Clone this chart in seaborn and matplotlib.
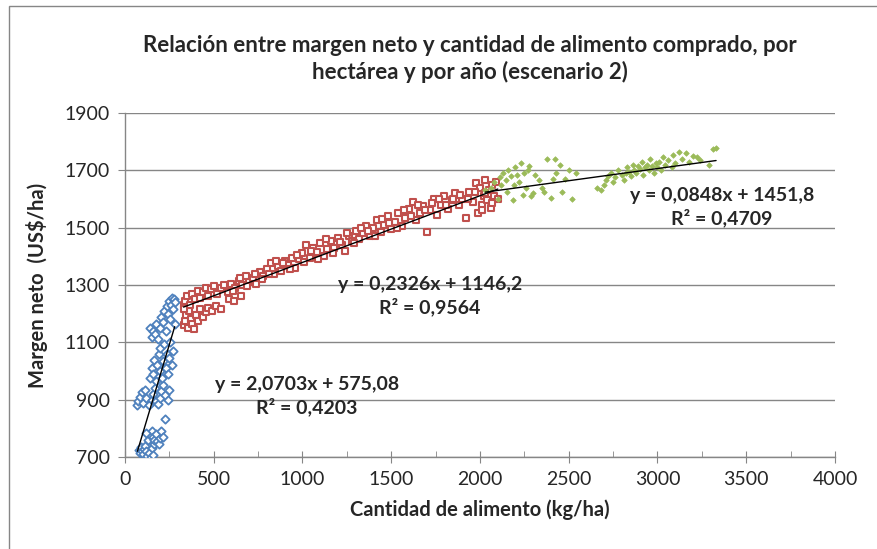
import numpy as np
import pandas as pd
import matplotlib
matplotlib.use("Agg")
import matplotlib.pyplot as plt
import seaborn as sns
from matplotlib.ticker import MultipleLocator
from matplotlib.patches import Rectangle

# serie 1 (azul)
azul_x = [80, 85, 90, 95, 100, 105, 110, 120, 125, 135, 145, 150, 160, 165, 130, 140, 150, 155, 165, 175,
          180, 190, 200, 205, 215, 120, 226,
          70, 75, 85, 95, 100, 110, 120, 135, 150, 160, 170, 175, 185, 195, 205, 215, 225, 240, 250,
          140, 150, 160, 165, 175, 180, 190, 195, 200, 210, 215, 220, 230, 235, 245, 250, 255, 265, 270,
          140, 150, 160, 170, 175, 185, 195, 205, 215, 220, 230, 235, 245, 250, 255, 260, 265, 270, 275, 280, 280]
azul_y = [725, 715, 735, 720, 712, 728, 740, 722, 705, 715, 700, 732, 708, 745, 760, 775, 790, 770, 760, 780,
          755, 745, 765, 790, 770, 785, 833,
          880, 895, 910, 925, 890, 935, 905, 880, 900, 920, 940, 895, 885, 905, 930, 950, 915, 900, 935,
          975, 1010, 990, 1040, 965, 1020, 1060, 1000, 1080, 975, 1035, 1095, 1010, 1060, 990, 1045, 1100, 1020, 1070,
          1150, 1120, 1140, 1130, 1165, 1110, 1150, 1190, 1170, 1210, 1140, 1225, 1200, 1245, 1180, 1230, 1255, 1215, 1250, 1165, 1240]

# serie 2 (roja)
roja_x = [330, 340, 345, 355, 360, 370, 380, 390, 400, 410, 420, 440, 455, 470, 490, 510, 540, 330, 335,
          340, 350, 365, 380, 395, 410, 425, 440, 455, 470, 485, 500, 520, 540, 560, 580, 600, 620, 640, 660,
          680, 700, 720, 740, 760, 780, 800, 820, 840, 860, 880, 900, 920, 940, 960, 980, 1000, 1020, 1040,
          1060, 1080, 1100, 1120, 1140, 1160, 1180, 1200, 1220, 1240, 1260, 1280, 1300, 1320, 1340, 1360,
          1380, 1400, 1420, 1440, 1460, 1480, 1500, 1520, 1540, 1560, 1580, 1600, 1620, 1640, 1660, 1680,
          1700, 1720, 1740, 1760, 1780, 1800, 1820, 1840, 1860, 1880, 1900, 1920, 1940, 1960, 1980, 1990,
          2000, 2010, 2020, 2030, 2040, 2050, 2060, 2070, 2080, 2090, 2100,
          610, 650, 690, 730, 770, 810, 850, 890, 930, 970, 1010, 1050, 1090, 1130, 1170, 1210, 1250, 1290,
          1330, 1370, 1410, 1450, 1490, 1530, 1570, 1610, 1650, 1690, 1730, 1770, 1810, 1850, 1890, 1930,
          1970, 2030, 2070, 2010, 585, 615, 655]
roja_y = [1160, 1175, 1195, 1150, 1210, 1180, 1165, 1145, 1195, 1175, 1215, 1190, 1205, 1220, 1210, 1225, 1215, 1230, 1215,
          1245, 1260, 1230, 1270, 1250, 1280, 1255, 1275, 1290, 1262, 1285, 1295, 1270, 1290, 1300, 1275, 1305, 1290, 1315, 1300,
          1330, 1310, 1325, 1305, 1345, 1330, 1355, 1375, 1340, 1365, 1350, 1385, 1370, 1395, 1360, 1390, 1410, 1440, 1395,
          1430, 1415, 1445, 1400, 1425, 1455, 1430, 1465, 1440, 1420, 1470, 1455, 1490, 1460, 1480, 1505,
          1470, 1500, 1525, 1485, 1510, 1540, 1495, 1520, 1550, 1505, 1535, 1565, 1590, 1525, 1550, 1575,
          1485, 1560, 1600, 1545, 1580, 1610, 1565, 1595, 1620, 1580, 1600, 1535, 1625, 1590, 1655, 1550,
          1640, 1580, 1610, 1665, 1595, 1630, 1570, 1650, 1610, 1660, 1600,
          1280, 1325, 1295, 1340, 1320, 1340, 1385, 1375, 1355, 1405, 1380, 1420, 1390, 1460, 1410, 1450, 1480, 1445,
          1500, 1490, 1470, 1530, 1515, 1500, 1560, 1540, 1580, 1560, 1585, 1600, 1580, 1600, 1615, 1600,
          1625, 1620, 1585, 1560, 1250, 1245, 1262]

# serie 3 (verde)
verde_x = [2030, 2060, 2080, 2100, 2110, 2120, 2130, 2145, 2150, 2160, 2175, 2185, 2190, 2200, 2210, 2220,
           2230, 2240, 2250, 2260, 2270, 2275, 2290, 2300, 2310, 2330, 2350, 2360, 2380, 2400, 2410, 2420,
           2430, 2450, 2460, 2480, 2500, 2520, 2540,
           2660, 2680, 2700, 2710, 2720, 2740, 2750, 2760, 2780, 2800, 2810, 2820, 2830, 2840, 2850, 2860,
           2870, 2880, 2890, 2900, 2910, 2920, 2930, 2940, 2950, 2960, 2970, 2980, 2990, 3000, 3010, 3020,
           3030, 3040, 3060, 3080, 3090, 3100, 3120, 3140, 3160, 3180, 3200, 3220, 3240, 3310, 3330, 3290]
verde_y = [1630, 1640, 1660, 1600, 1675, 1650, 1690, 1665, 1625, 1700, 1680, 1595, 1650, 1710, 1685, 1660,
           1725, 1615, 1690, 1640, 1700, 1715, 1610, 1620, 1685, 1665, 1640, 1625, 1740, 1605, 1670, 1740,
           1690, 1720, 1625, 1670, 1700, 1600, 1690,
           1640, 1630, 1650, 1665, 1680, 1690, 1660, 1675, 1700, 1685, 1665, 1690, 1710, 1695, 1680, 1720,
           1700, 1690, 1715, 1705, 1730, 1685, 1710, 1720, 1700, 1740, 1715, 1690, 1725, 1710, 1730, 1700,
           1745, 1720, 1735, 1710, 1755, 1725, 1765, 1740, 1760, 1730, 1750, 1745, 1735, 1775, 1778, 1720]

# lineas de tendencia (pendiente, intercepto)
tendencias = [(2.0703, 575.08), (0.2326, 1146.2), (0.0848, 1451.8)]
etiquetas = ["y = 2,0703x + 575,08\nR² = 0,4203",
             "y = 0,2326x + 1146,2\nR² = 0,9564",
             "y = 0,0848x + 1451,8\nR² = 0,4709"]
y_ticks = [700, 900, 1100, 1300, 1500, 1700, 1900]

sns.set_style("white")
plt.rcParams['font.family'] = ['Lato', 'DejaVu Sans']

fig = plt.figure(figsize=(8.78, 5.49), dpi=100)
ax = fig.add_axes([125 / 878, 1 - 457 / 549, 710 / 878, 344 / 549])

gris = "#868686"
ax.grid(axis="y", color=gris, lw=1)
ax.set_axisbelow(True)

series = [
    (azul_x, azul_y, "D", "white", "#4F81BD", 18, 1.3),
    (roja_x, roja_y, "s", "white", "#C0504D", 16, 1.5),
    (verde_x, verde_y, "D", "#9BBB59", "#9BBB59", 8, 0.5),
]
for sx, sy, m, fc, ec, s, lw in series:
    df = pd.DataFrame({"x": sx, "y": sy})
    sns.scatterplot(data=df, x="x", y="y", marker=m, s=s, facecolor=fc,
                    edgecolor=ec, linewidth=lw, ax=ax, zorder=3)

for (sx, sy, *_), (m, b) in zip(series, tendencias):
    xs = np.array([min(sx), max(sx)])
    ax.plot(xs, m * xs + b, color="black", lw=1, zorder=4)

ax.set_xlim(0, 4000)
ax.set_ylim(700, 1900)
ax.xaxis.set_major_locator(MultipleLocator(500))
ax.xaxis.set_minor_locator(MultipleLocator(250))
ax.set_yticks(y_ticks)

for side in ["top", "right"]:
    ax.spines[side].set_visible(False)
for side in ["left", "bottom"]:
    ax.spines[side].set_color(gris)
    ax.spines[side].set_linewidth(1)

ax.tick_params(axis="x", which="major", direction="inout", length=8, color=gris, labelsize=14, pad=6)
ax.tick_params(axis="x", which="minor", direction="in", length=4, color=gris)
ax.tick_params(axis="y", which="major", direction="out", length=5, color=gris, labelsize=14, pad=6)
ax.tick_params(bottom=True, left=True, which="both")
ax.tick_params(axis="y", which="minor", left=False)

ax.set_xlabel("Cantidad de alimento (kg/ha)", fontsize=14.5, fontweight="bold", labelpad=8)
ax.set_ylabel("Margen neto  (US$/ha)", fontsize=14.5, fontweight="bold", labelpad=12)

fig.text(470 / 878, 1 - 59 / 549,
         "Relación entre margen neto y cantidad de alimento comprado, por\nhectárea y por año (escenario 2)",
         ha="center", va="center", fontsize=16, fontweight="bold", linespacing=1.3)

posiciones = [(307, 396), (430, 296), (722, 207)]
for (px, py), t in zip(posiciones, etiquetas):
    fig.text(px / 878, 1 - py / 549, t, ha="center", va="center",
             fontsize=14, fontweight="bold", linespacing=1.25)

fig.patches.append(Rectangle((9 / 878, -0.02), 1.1, 1 - 6 / 549 + 0.02,
                             transform=fig.transFigure, fill=False,
                             edgecolor=gris, lw=1))

plt.savefig("out.png", dpi=100)
